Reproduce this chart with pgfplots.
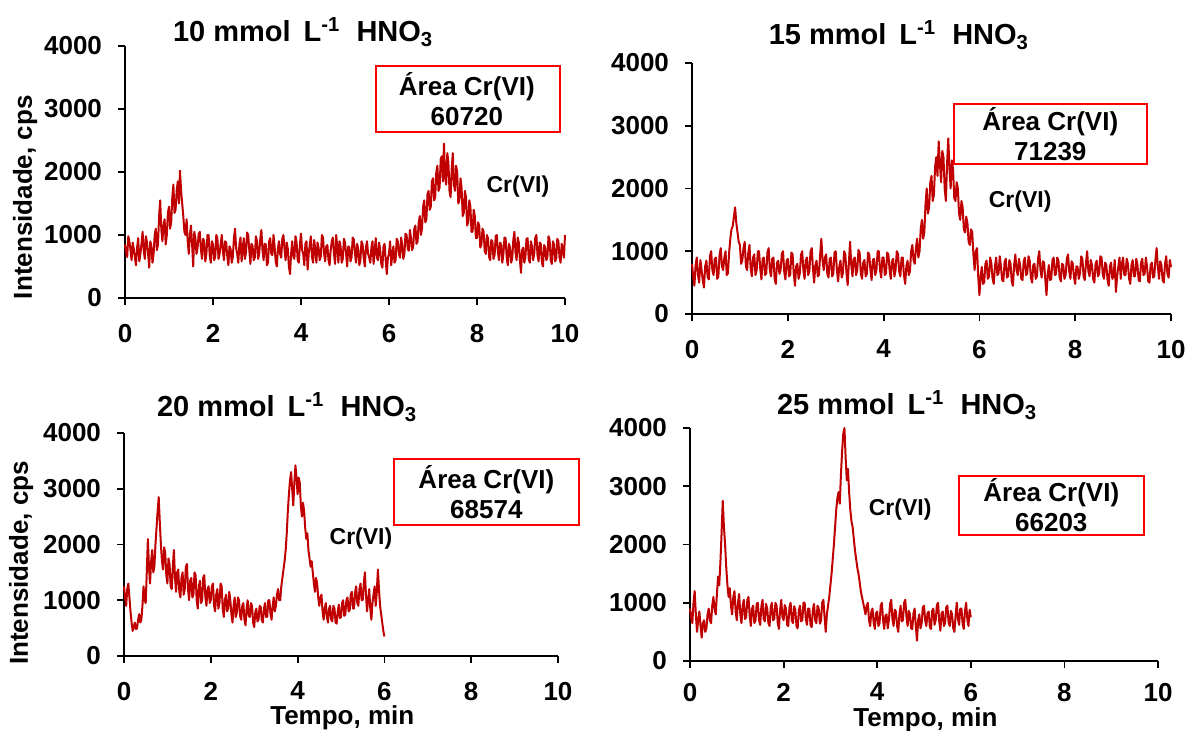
\documentclass[border=0pt]{standalone}
\usepackage{fontspec}
\setmainfont{Liberation Sans}
\usepackage{pgfplots}
\pgfplotsset{compat=1.18}
\definecolor{crred}{RGB}{192,0,0}
\definecolor{boxred}{RGB}{255,0,0}
\newcommand{\tfont}{\bfseries\fontsize{14.5}{17}\selectfont}
\newcommand{\bfont}{\bfseries\fontsize{13}{15}\selectfont}
\newcommand{\cfont}{\bfseries\fontsize{11.5}{13}\selectfont}
\pgfplotsset{
  chrom/.style={
    scale only axis, anchor=south west, clip=false,
    xmin=0, xmax=10, ymin=0, ymax=4000,
    xtick={0,2,...,10}, ytick={0,1000,...,4000},
    axis x line=bottom, axis y line=left,
    axis line style={black, line width=0.9pt, -},
    tick style={black, line width=0.9pt},
    tick align=outside, major tick length=3.5pt,
    ticklabel style={font=\bfont},
    /pgf/number format/assume math mode=true,
    /pgf/number format/1000 sep={},
    xticklabel style={yshift=-6pt},
    yticklabel style={xshift=-4.5pt},
    label style={font=\bfont},
    ylabel style={at={(axis description cs:-0.227,0.40)}, anchor=center, rotate=0},
    xlabel style={at={(axis description cs:0.503,0)}, anchor=center, yshift=-31pt, inner sep=1pt},
  },
  sig/.style={crred, line width=1pt, line join=round},
}
\begin{document}
\begin{tikzpicture}
\path[use as bounding box] (0,0) rectangle (594.5pt,365.5pt);

% 10 mmol/L
\begin{axis}[chrom, at={(62.5pt,216.5pt)}, width=220pt, height=126pt,
  ylabel={Intensidade, cps}]
\addplot[sig] coordinates {
(0.000,850)(0.025,720)(0.050,650)(0.075,980)(0.100,900)(0.125,760)(0.150,600)(0.175,880)(0.200,780)(0.225,640)
(0.250,520)(0.275,800)(0.300,950)(0.325,580)(0.350,700)(0.375,860)(0.400,1050)(0.425,760)(0.450,620)(0.475,980)
(0.500,880)(0.525,700)(0.550,480)(0.575,900)(0.600,820)(0.625,560)(0.650,700)(0.675,1000)(0.700,1100)(0.725,760)
(0.750,850)(0.775,1300)(0.800,1550)(0.825,1100)(0.850,900)(0.875,1150)(0.900,1250)(0.925,850)(0.950,1000)(0.975,1350)
(1.000,1450)(1.025,1100)(1.050,1200)(1.075,1600)(1.100,1800)(1.125,1350)(1.150,1400)(1.175,1700)(1.200,1850)(1.225,1500)
(1.250,2020)(1.275,1700)(1.300,1500)(1.325,1300)(1.350,1050)(1.375,1000)(1.400,1250)(1.425,900)(1.450,700)(1.475,1000)
(1.500,1150)(1.525,850)(1.550,500)(1.575,1050)(1.600,950)(1.625,700)(1.650,800)(1.675,1020)(1.700,1050)(1.725,780)
(1.750,620)(1.775,940)(1.800,900)(1.825,580)(1.850,700)(1.875,1000)(1.900,1000)(1.925,680)(1.950,560)(1.975,900)
(2.000,850)(2.025,600)(2.050,650)(2.075,1000)(2.100,950)(2.125,620)(2.150,700)(2.175,860)(2.200,1000)(2.225,740)
(2.250,600)(2.275,900)(2.300,880)(2.325,660)(2.350,520)(2.375,820)(2.400,780)(2.425,560)(2.450,650)(2.475,940)
(2.500,1100)(2.525,800)(2.550,700)(2.575,560)(2.600,850)(2.625,960)(2.650,580)(2.675,780)(2.700,950)(2.725,620)
(2.750,720)(2.775,1040)(2.800,1000)(2.825,760)(2.850,540)(2.875,860)(2.900,820)(2.925,600)(2.950,640)(2.975,980)
(3.000,900)(3.025,620)(3.050,700)(3.075,940)(3.100,1080)(3.125,760)(3.150,600)(3.175,860)(3.200,850)(3.225,520)
(3.250,560)(3.275,900)(3.300,950)(3.325,700)(3.350,680)(3.375,1000)(3.400,820)(3.425,580)(3.450,500)(3.475,780)
(3.500,900)(3.525,700)(3.550,640)(3.575,940)(3.600,1000)(3.625,780)(3.650,600)(3.675,880)(3.700,780)(3.725,500)
(3.750,380)(3.775,700)(3.800,900)(3.825,660)(3.850,620)(3.875,980)(3.900,880)(3.925,600)(3.950,560)(3.975,840)
(4.000,1020)(4.025,760)(4.050,700)(4.075,520)(4.100,860)(4.125,900)(4.150,450)(4.175,700)(4.200,850)(4.225,980)
(4.250,650)(4.275,560)(4.300,920)(4.325,760)(4.350,560)(4.375,880)(4.400,800)(4.425,600)(4.450,660)(4.475,1000)
(4.500,960)(4.525,700)(4.550,580)(4.575,820)(4.600,840)(4.625,600)(4.650,520)(4.675,760)(4.700,900)(4.725,960)
(4.750,700)(4.775,540)(4.800,1000)(4.825,800)(4.850,560)(4.875,900)(4.900,820)(4.925,560)(4.950,620)(4.975,940)
(5.000,880)(5.025,700)(5.050,500)(5.075,820)(5.100,800)(5.125,580)(5.150,650)(5.175,960)(5.200,930)(5.225,720)
(5.250,560)(5.275,860)(5.300,780)(5.325,520)(5.350,600)(5.375,900)(5.400,850)(5.425,640)(5.450,500)(5.475,800)
(5.500,900)(5.525,700)(5.550,640)(5.575,560)(5.600,800)(5.625,900)(5.650,540)(5.675,760)(5.700,950)(5.725,640)
(5.750,600)(5.775,880)(5.800,760)(5.825,540)(5.850,480)(5.875,820)(5.900,860)(5.925,600)(5.950,380)(5.975,640)
(6.000,700)(6.025,900)(6.050,520)(6.075,680)(6.100,820)(6.125,560)(6.150,600)(6.175,940)(6.200,900)(6.225,700)
(6.250,640)(6.275,960)(6.300,850)(6.325,620)(6.350,700)(6.375,1020)(6.400,1000)(6.425,780)(6.450,750)(6.475,1080)
(6.500,950)(6.525,760)(6.550,820)(6.575,1100)(6.600,1150)(6.625,860)(6.650,900)(6.675,1200)(6.700,1300)(6.725,1000)
(6.750,1100)(6.775,1450)(6.800,1550)(6.825,1200)(6.850,1250)(6.875,1650)(6.900,1700)(6.925,1400)(6.950,1450)(6.975,1850)
(7.000,1900)(7.025,1550)(7.050,1600)(7.075,2000)(7.100,2100)(7.125,1700)(7.150,1750)(7.175,2200)(7.200,2250)(7.225,1850)
(7.250,2450)(7.275,1900)(7.300,1800)(7.325,2300)(7.350,2150)(7.375,1700)(7.400,1600)(7.425,2050)(7.450,2300)(7.475,1800)
(7.500,1700)(7.525,2100)(7.550,2000)(7.575,1500)(7.600,1550)(7.625,1900)(7.650,1750)(7.675,1300)(7.700,1350)(7.725,1700)
(7.750,1600)(7.775,1150)(7.800,1200)(7.825,1550)(7.850,1450)(7.875,1050)(7.900,1050)(7.925,1400)(7.950,1300)(7.975,950)
(8.000,950)(8.025,1200)(8.050,1150)(8.075,800)(8.100,850)(8.125,1100)(8.150,1050)(8.175,750)(8.200,700)(8.225,1000)
(8.250,950)(8.275,650)(8.300,600)(8.325,920)(8.350,900)(8.375,620)(8.400,680)(8.425,980)(8.450,1000)(8.475,720)
(8.500,600)(8.525,880)(8.550,850)(8.575,560)(8.600,700)(8.625,960)(8.650,950)(8.675,640)(8.700,520)(8.725,860)
(8.750,800)(8.775,560)(8.800,620)(8.825,920)(8.850,1050)(8.875,720)(8.900,600)(8.925,960)(8.950,880)(8.975,600)
(9.000,400)(9.025,760)(9.050,800)(9.075,560)(9.100,650)(9.125,940)(9.150,950)(9.175,620)(9.200,560)(9.225,900)
(9.250,820)(9.275,600)(9.300,700)(9.325,960)(9.350,1000)(9.375,680)(9.400,580)(9.425,880)(9.450,860)(9.475,560)
(9.500,500)(9.525,840)(9.550,800)(9.575,600)(9.600,650)(9.625,980)(9.650,920)(9.675,600)(9.700,540)(9.725,900)
(9.750,850)(9.775,580)(9.800,620)(9.825,940)(9.850,900)(9.875,640)(9.900,560)(9.925,860)(9.950,780)(9.975,640)
(10.000,1000)
};
\node[font=\tfont] at (axis cs:4.05,4222) {10 mmol\, L\textsuperscript{-1}\ \ HNO\textsubscript{3}};
\draw[boxred, line width=1pt] (axis cs:5.70,2635) rectangle (axis cs:9.89,3683);
\node[font=\bfont, align=center] at (axis cs:7.77,3159) {Área Cr(VI)\\60720};
\node[font=\cfont] at (axis cs:8.93,1762) {Cr(VI)};
\end{axis}

% 15 mmol/L
\begin{axis}[chrom, at={(346pt,208.5pt)}, width=239.5pt, height=125.5pt]
\addplot[sig] coordinates {
(0.000,800)(0.025,600)(0.050,450)(0.075,780)(0.100,900)(0.125,620)(0.150,500)(0.175,860)(0.200,700)(0.225,540)
(0.250,420)(0.275,760)(0.300,850)(0.325,600)(0.350,550)(0.375,920)(0.400,1000)(0.425,700)(0.450,620)(0.475,880)
(0.500,900)(0.525,560)(0.550,600)(0.575,940)(0.600,1050)(0.625,760)(0.650,700)(0.675,900)(0.700,1000)(0.725,620)
(0.750,650)(0.775,980)(0.800,1200)(0.825,1350)(0.850,1400)(0.875,1550)(0.900,1700)(0.925,1450)(0.950,1300)(0.975,1150)
(1.000,1100)(1.025,800)(1.050,850)(1.075,1050)(1.100,1150)(1.125,760)(1.150,700)(1.175,980)(1.200,1100)(1.225,720)
(1.250,600)(1.275,900)(1.300,950)(1.325,620)(1.350,700)(1.375,1000)(1.400,1000)(1.425,720)(1.450,550)(1.475,880)
(1.500,900)(1.525,620)(1.550,650)(1.575,980)(1.600,1050)(1.625,700)(1.650,600)(1.675,880)(1.700,900)(1.725,560)
(1.750,480)(1.775,820)(1.800,850)(1.825,640)(1.850,700)(1.875,960)(1.900,1000)(1.925,680)(1.950,550)(1.975,840)
(2.000,880)(2.025,600)(2.050,620)(2.075,980)(2.100,950)(2.125,640)(2.150,450)(2.175,760)(2.200,800)(2.225,560)
(2.250,650)(2.275,940)(2.300,1000)(2.325,700)(2.350,560)(2.375,860)(2.400,900)(2.425,620)(2.450,680)(2.475,1000)
(2.500,1050)(2.525,720)(2.550,500)(2.575,780)(2.600,850)(2.625,600)(2.650,620)(2.675,940)(2.700,1200)(2.725,860)
(2.750,700)(2.775,900)(2.800,950)(2.825,640)(2.850,580)(2.875,880)(2.900,900)(2.925,600)(2.950,640)(2.975,980)
(3.000,1000)(3.025,700)(3.050,520)(3.075,760)(3.100,850)(3.125,580)(3.150,650)(3.175,1000)(3.200,950)(3.225,660)
(3.250,460)(3.275,820)(3.300,1150)(3.325,780)(3.350,600)(3.375,880)(3.400,900)(3.425,620)(3.450,700)(3.475,1020)
(3.500,980)(3.525,640)(3.550,560)(3.575,820)(3.600,860)(3.625,600)(3.650,640)(3.675,980)(3.700,950)(3.725,700)
(3.750,540)(3.775,860)(3.800,880)(3.825,620)(3.850,700)(3.875,1000)(3.900,1000)(3.925,700)(3.950,580)(3.975,900)
(4.000,900)(4.025,620)(4.050,650)(4.075,980)(4.100,950)(4.125,700)(4.150,560)(4.175,840)(4.200,880)(4.225,600)
(4.250,700)(4.275,1000)(4.300,960)(4.325,680)(4.350,600)(4.375,900)(4.400,900)(4.425,620)(4.450,480)(4.475,760)
(4.500,850)(4.525,620)(4.550,680)(4.575,1000)(4.600,1100)(4.625,860)(4.650,800)(4.675,1050)(4.700,1200)(4.725,900)
(4.750,1000)(4.775,1350)(4.800,1500)(4.825,1200)(4.850,1300)(4.875,1750)(4.900,2000)(4.925,1600)(4.950,1700)(4.975,2100)
(5.000,2200)(5.025,1800)(5.050,1900)(5.075,2350)(5.100,2500)(5.125,2200)(5.150,2750)(5.175,2400)(5.200,2100)(5.225,2600)
(5.250,2500)(5.275,2000)(5.300,1800)(5.325,2400)(5.350,2800)(5.375,2300)(5.400,2000)(5.425,2450)(5.450,2300)(5.475,1850)
(5.500,1800)(5.525,2100)(5.550,2000)(5.575,1600)(5.600,1500)(5.625,1800)(5.650,1700)(5.675,1350)(5.700,1300)(5.725,1550)
(5.750,1450)(5.775,1150)(5.800,1100)(5.825,1350)(5.850,1300)(5.875,950)(5.900,700)(5.925,1000)(5.950,1050)(5.975,600)
(6.000,300)(6.025,600)(6.050,750)(6.075,480)(6.100,500)(6.125,800)(6.150,850)(6.175,560)(6.200,600)(6.225,900)
(6.250,800)(6.275,560)(6.300,480)(6.325,760)(6.350,900)(6.375,620)(6.400,650)(6.425,920)(6.450,750)(6.475,540)
(6.500,520)(6.525,820)(6.550,880)(6.575,580)(6.600,600)(6.625,860)(6.650,800)(6.675,520)(6.700,450)(6.725,780)
(6.750,950)(6.775,700)(6.800,620)(6.825,880)(6.850,780)(6.875,560)(6.900,540)(6.925,840)(6.950,900)(6.975,620)
(7.000,650)(7.025,920)(7.050,850)(7.075,580)(7.100,500)(7.125,780)(7.150,800)(7.175,560)(7.200,600)(7.225,880)
(7.250,1000)(7.275,700)(7.300,580)(7.325,840)(7.350,820)(7.375,560)(7.400,300)(7.425,620)(7.450,780)(7.475,540)
(7.500,560)(7.525,860)(7.550,900)(7.575,620)(7.600,640)(7.625,900)(7.650,850)(7.675,580)(7.700,520)(7.725,800)
(7.750,780)(7.775,560)(7.800,620)(7.825,880)(7.850,950)(7.875,680)(7.900,560)(7.925,840)(7.950,800)(7.975,580)
(8.000,480)(8.025,760)(8.050,750)(8.075,560)(8.100,650)(8.125,920)(8.150,880)(8.175,600)(8.200,540)(8.225,820)
(8.250,1000)(8.275,680)(8.300,600)(8.325,860)(8.350,780)(8.375,560)(8.400,500)(8.425,800)(8.450,850)(8.475,600)
(8.500,640)(8.525,920)(8.550,900)(8.575,640)(8.600,560)(8.625,820)(8.650,780)(8.675,540)(8.700,450)(8.725,760)
(8.750,820)(8.775,560)(8.800,600)(8.825,860)(8.850,350)(8.875,600)(8.900,750)(8.925,900)(8.950,560)(8.975,800)
(9.000,900)(9.025,620)(9.050,620)(9.075,880)(9.100,800)(9.125,560)(9.150,480)(9.175,780)(9.200,860)(9.225,600)
(9.250,600)(9.275,880)(9.300,780)(9.325,540)(9.350,520)(9.375,820)(9.400,880)(9.425,620)(9.450,640)(9.475,900)
(9.500,750)(9.525,520)(9.550,500)(9.575,780)(9.600,820)(9.625,580)(9.650,600)(9.675,860)(9.700,1050)(9.725,760)
(9.750,560)(9.775,840)(9.800,780)(9.825,540)(9.850,500)(9.875,800)(9.900,920)(9.925,640)(9.950,580)(9.975,860)
(10.000,750)
};
\node[font=\tfont] at (axis cs:4.32,4447) {15 mmol\, L\textsuperscript{-1}\ \ HNO\textsubscript{3}};
\draw[boxred, line width=1pt] (axis cs:5.47,2391) rectangle (axis cs:9.50,3347);
\node[font=\bfont, align=center] at (axis cs:7.48,2869) {Área Cr(VI)\\71239};
\node[font=\cfont] at (axis cs:6.85,1785) {Cr(VI)};
\end{axis}

% 20 mmol/L
\begin{axis}[chrom, at={(62pt,37.5pt)}, width=217pt, height=111.5pt,
  ylabel={Intensidade, cps}, xlabel={Tempo, min},
  ylabel style={at={(axis description cs:-0.237,0.417)}}]
\addplot[sig] coordinates {
(0.000,1250)(0.025,1050)(0.050,900)(0.075,1200)(0.100,1300)(0.125,1050)(0.150,800)(0.175,600)(0.200,450)(0.225,520)
(0.250,600)(0.275,480)(0.300,500)(0.325,650)(0.350,750)(0.375,600)(0.400,650)(0.425,900)(0.450,1250)(0.475,1000)
(0.500,950)(0.525,1500)(0.550,2100)(0.575,1600)(0.600,1300)(0.625,1700)(0.650,1900)(0.675,1500)(0.700,1600)(0.725,2000)
(0.750,2300)(0.775,2600)(0.800,2850)(0.825,2400)(0.850,2000)(0.875,1700)(0.900,1550)(0.925,1950)(0.950,1850)(0.975,1450)
(1.000,1300)(1.025,1750)(1.050,1650)(1.075,1250)(1.100,1200)(1.125,1600)(1.150,1900)(1.175,1400)(1.200,1150)(1.225,1500)
(1.250,1550)(1.275,1150)(1.300,1050)(1.325,1400)(1.350,1500)(1.375,1100)(1.400,1200)(1.425,1600)(1.450,1650)(1.475,1200)
(1.500,1000)(1.525,1350)(1.550,1400)(1.575,1050)(1.600,1100)(1.625,1500)(1.650,1450)(1.675,1000)(1.700,850)(1.725,1250)
(1.750,1350)(1.775,950)(1.800,1000)(1.825,1400)(1.850,1450)(1.875,1050)(1.900,900)(1.925,1200)(1.950,1250)(1.975,950)
(2.000,1000)(2.025,1250)(2.050,1300)(2.075,900)(2.100,800)(2.125,1100)(2.150,1200)(2.175,850)(2.200,950)(2.225,1300)
(2.250,1250)(2.275,850)(2.300,700)(2.325,1000)(2.350,1100)(2.375,800)(2.400,850)(2.425,1150)(2.450,1000)(2.475,750)
(2.500,600)(2.525,900)(2.550,1050)(2.575,700)(2.600,780)(2.625,1050)(2.650,1000)(2.675,720)(2.700,650)(2.725,900)
(2.750,950)(2.775,650)(2.800,550)(2.825,850)(2.850,1000)(2.875,720)(2.900,700)(2.925,950)(2.950,900)(2.975,600)
(3.000,520)(3.025,780)(3.050,850)(3.075,620)(3.100,650)(3.125,900)(3.150,880)(3.175,640)(3.200,600)(3.225,850)
(3.250,950)(3.275,700)(3.300,700)(3.325,1000)(3.350,1000)(3.375,760)(3.400,650)(3.425,900)(3.450,1050)(3.475,800)
(3.500,900)(3.525,1100)(3.550,1200)(3.575,1000)(3.600,1000)(3.625,1250)(3.650,1400)(3.675,1550)(3.700,1700)(3.725,1900)
(3.750,2200)(3.775,2600)(3.800,2900)(3.825,3150)(3.850,3300)(3.875,3000)(3.900,2700)(3.925,3100)(3.950,3420)(3.975,3200)
(4.000,2900)(4.025,3200)(4.050,3100)(4.075,2700)(4.100,2500)(4.125,2750)(4.150,2600)(4.175,2300)(4.200,2100)(4.225,2200)
(4.250,1900)(4.275,1750)(4.300,1600)(4.325,1700)(4.350,1500)(4.375,1300)(4.400,1150)(4.425,1400)(4.450,1300)(4.475,1050)
(4.500,900)(4.525,1050)(4.550,1100)(4.575,800)(4.600,650)(4.625,850)(4.650,950)(4.675,700)(4.700,600)(4.725,850)
(4.750,900)(4.775,650)(4.800,620)(4.825,900)(4.850,850)(4.875,600)(4.900,580)(4.925,800)(4.950,920)(4.975,680)
(5.000,700)(5.025,950)(5.050,1000)(5.075,720)(5.100,750)(5.125,1000)(5.150,1050)(5.175,800)(5.200,820)(5.225,1100)
(5.250,1150)(5.275,850)(5.300,850)(5.325,1150)(5.350,1250)(5.375,950)(5.400,900)(5.425,1200)(5.450,1300)(5.475,1000)
(5.500,1000)(5.525,1300)(5.550,1500)(5.575,1100)(5.600,800)(5.625,1000)(5.650,1200)(5.675,850)(5.700,650)(5.725,950)
(5.750,1100)(5.775,1250)(5.800,900)(5.825,1150)(5.850,1550)(5.875,1200)(5.900,900)(5.925,750)(5.950,600)(5.975,450)
(6.000,350)
};
\node[font=\tfont] at (axis cs:3.76,4467) {20 mmol\, L\textsuperscript{-1}\ \ HNO\textsubscript{3}};
\draw[boxred, line width=1pt] (axis cs:6.22,2350) rectangle (axis cs:10.48,3534);
\node[font=\bfont, align=center] at (axis cs:8.35,2942) {Área Cr(VI)\\68574};
\node[font=\cfont] at (axis cs:5.46,2099) {Cr(VI)};
\end{axis}

% 25 mmol/L
\begin{axis}[chrom, at={(345pt,35pt)}, width=234pt, height=116.5pt,
  xlabel={Tempo, min}, xlabel style={yshift=1.5pt},
  xticklabel style={yshift=2pt}]
\addplot[sig] coordinates {
(0.000,900)(0.025,750)(0.050,650)(0.075,1000)(0.100,1200)(0.125,800)(0.150,500)(0.175,700)(0.200,850)(0.225,600)
(0.250,400)(0.275,650)(0.300,700)(0.325,500)(0.350,550)(0.375,800)(0.400,900)(0.425,700)(0.450,650)(0.475,950)
(0.500,1100)(0.525,900)(0.550,800)(0.575,1150)(0.600,1450)(0.625,1300)(0.650,1700)(0.675,2200)(0.700,2750)(0.725,2300)
(0.750,2000)(0.775,1600)(0.800,1300)(0.825,1100)(0.850,1250)(0.875,950)(0.900,800)(0.925,1100)(0.950,1200)(0.975,850)
(1.000,700)(1.025,1000)(1.050,1150)(1.075,800)(1.100,650)(1.125,950)(1.150,1050)(1.175,720)(1.200,750)(1.225,1050)
(1.250,1100)(1.275,780)(1.300,600)(1.325,900)(1.350,950)(1.375,650)(1.400,700)(1.425,980)(1.450,1000)(1.475,700)
(1.500,620)(1.525,940)(1.550,1050)(1.575,720)(1.600,680)(1.625,980)(1.650,900)(1.675,650)(1.700,600)(1.725,920)
(1.750,1000)(1.775,700)(1.800,720)(1.825,1000)(1.850,950)(1.875,650)(1.900,550)(1.925,880)(1.950,1050)(1.975,760)
(2.000,700)(2.025,960)(2.050,900)(2.075,620)(2.100,600)(2.125,920)(2.150,1000)(2.175,700)(2.200,650)(2.225,940)
(2.250,880)(2.275,600)(2.300,560)(2.325,860)(2.350,950)(2.375,680)(2.400,700)(2.425,1000)(2.450,1000)(2.475,720)
(2.500,620)(2.525,900)(2.550,900)(2.575,620)(2.600,580)(2.625,880)(2.650,980)(2.675,700)(2.700,650)(2.725,950)
(2.750,900)(2.775,640)(2.800,700)(2.825,1000)(2.850,1050)(2.875,760)(2.900,500)(2.925,800)(2.950,950)(2.975,1100)
(3.000,1300)(3.025,1500)(3.050,1750)(3.075,2000)(3.100,2300)(3.125,2600)(3.150,2800)(3.175,2900)(3.200,2700)(3.225,3200)
(3.250,3600)(3.275,3900)(3.300,4000)(3.325,3500)(3.350,3100)(3.375,3300)(3.400,2900)(3.425,2600)(3.450,2400)(3.475,2300)
(3.500,2100)(3.525,1900)(3.550,1750)(3.575,1600)(3.600,1500)(3.625,1350)(3.650,1200)(3.675,1100)(3.700,1000)(3.725,900)
(3.750,800)(3.775,950)(3.800,1000)(3.825,700)(3.850,600)(3.875,850)(3.900,900)(3.925,650)(3.950,550)(3.975,820)
(4.000,850)(4.025,600)(4.050,650)(4.075,950)(4.100,1000)(4.125,700)(4.150,550)(4.175,780)(4.200,800)(4.225,560)
(4.250,700)(4.275,980)(4.300,1050)(4.325,720)(4.350,600)(4.375,880)(4.400,850)(4.425,600)(4.450,500)(4.475,800)
(4.500,950)(4.525,680)(4.550,700)(4.575,1000)(4.600,1050)(4.625,760)(4.650,600)(4.675,860)(4.700,800)(4.725,560)
(4.750,550)(4.775,820)(4.800,900)(4.825,600)(4.850,350)(4.875,700)(4.900,800)(4.925,560)(4.950,650)(4.975,920)
(5.000,950)(5.025,700)(5.050,600)(5.075,820)(5.100,850)(5.125,580)(5.150,550)(5.175,860)(5.200,900)(5.225,620)
(5.250,700)(5.275,960)(5.300,1000)(5.325,680)(5.350,520)(5.375,820)(5.400,850)(5.425,600)(5.450,650)(5.475,920)
(5.500,950)(5.525,660)(5.550,600)(5.575,860)(5.600,800)(5.625,560)(5.650,500)(5.675,780)(5.700,1000)(5.725,720)
(5.750,620)(5.775,900)(5.800,900)(5.825,640)(5.850,550)(5.875,860)(5.900,1000)(5.925,720)(5.950,600)(5.975,880)
(6.000,750)
};
\node[font=\tfont] at (axis cs:4.64,4395) {25 mmol\, L\textsuperscript{-1}\ \ HNO\textsubscript{3}};
\draw[boxred, line width=1pt] (axis cs:5.75,2163) rectangle (axis cs:9.70,3176);
\node[font=\bfont, align=center] at (axis cs:7.72,2670) {Área Cr(VI)\\66203};
\node[font=\cfont] at (axis cs:4.49,2593) {Cr(VI)};
\end{axis}
\end{tikzpicture}
\end{document}
